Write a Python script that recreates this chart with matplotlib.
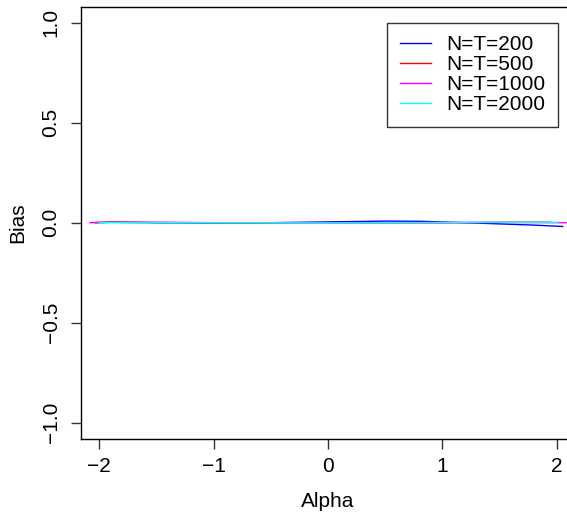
import matplotlib
matplotlib.use("Agg")
import matplotlib.pyplot as plt

plt.rcParams['font.family'] = ['Liberation Sans', 'DejaVu Sans']

# Data
alpha_200 = [-2.03, -1.9, -1.5, -1.0, -0.5, 0.0, 0.5, 0.8, 1.2, 1.5, 1.8, 2.05]
bias_200 = [0.0, 0.002, 0.0, -0.001, 0.0, 0.004, 0.008, 0.007, 0.0, -0.006, -0.012, -0.019]

alpha_500 = [-2.03, -1.9, -1.6, -1.0, 0.0, 1.0, 1.5, 1.94]
bias_500 = [0.001, 0.003, 0.002, 0.0, 0.0, 0.0, 0.002, 0.002]

alpha_1000 = [-2.08, -1.9, -1.5, -1.0, 0.0, 1.0, 1.5, 2.08]
bias_1000 = [0.0, 0.002, 0.001, 0.0, 0.0, 0.0, 0.001, 0.0]

alpha_2000 = [-2.0, -1.0, 0.0, 1.0, 1.5, 2.01]
bias_2000 = [0.0, 0.0, -0.001, 0.001, 0.002, 0.002]

labels = ["N=T=200", "N=T=500", "N=T=1000", "N=T=2000"]
colors = ["#0000ff", "#ff0000", "#ff00ff", "#00ffff"]

x_ticks = [-2, -1, 0, 1, 2]
y_ticks = [-1.0, -0.5, 0.0, 0.5, 1.0]

W, H = 567, 514
fig = plt.figure(figsize=(W / 100, H / 100), dpi=100)
left, right, bottom, top = 80.7, 575.3, H - 438.7, H - 6.7
ax = fig.add_axes([left / W, bottom / H, (right - left) / W, (top - bottom) / H])

series = [(alpha_200, bias_200), (alpha_500, bias_500), (alpha_1000, bias_1000), (alpha_2000, bias_2000)]
for (xs, ys), c, lab in zip(series, colors, labels):
    ax.plot(xs, ys, color=c, lw=1.0, label=lab)

ax.set_xlim(-2.16, 2.16)
ax.set_ylim(-1.08, 1.08)
ax.set_xticks(x_ticks)
ax.set_xticklabels(["\u22122", "\u22121", "0", "1", "2"])
ax.set_yticks(y_ticks)
ax.set_yticklabels(["\u22121.0", "\u22120.5", "0.0", "0.5", "1.0"], rotation=90, va='center')

for s in ax.spines.values():
    s.set_color('black')
    s.set_linewidth(1.0)

FS = 15
ax.tick_params(axis='both', length=7.5, width=1.0, color='#333333', labelsize=FS, pad=6)
ax.tick_params(axis='y', pad=7)

ax.set_xlabel("Alpha", fontsize=FS, labelpad=11)
ax.set_ylabel("Bias", fontsize=FS, labelpad=10)

leg = ax.legend(loc='upper left',
                bbox_to_anchor=(387.3 / W, (H - 22.7) / H),
                bbox_transform=fig.transFigure,
                fontsize=FS, frameon=True, fancybox=False,
                handlelength=1.5, handletextpad=0.75,
                labelspacing=0.05, borderpad=0.6, borderaxespad=0)
leg.get_frame().set_edgecolor('black')
leg.get_frame().set_linewidth(1.0)

fig.savefig("out.png", dpi=100)
